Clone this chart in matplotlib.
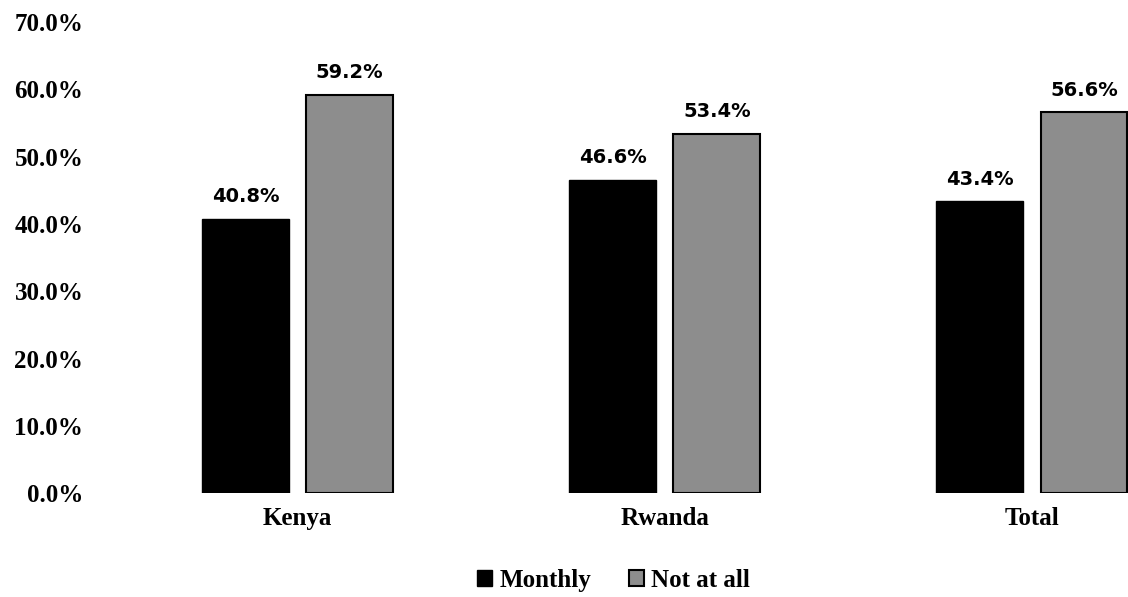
import numpy as np
import matplotlib.pyplot as plt
from matplotlib.patches import Patch

categories = ['Kenya', 'Rwanda', 'Total']
monthly = [40.8, 46.6, 43.4]
not_at_all = [59.2, 53.4, 56.6]
yticks = [0, 10, 20, 30, 40, 50, 60, 70]

serif = {'family': 'Liberation Serif', 'weight': 'bold', 'size': 18}

fig = plt.figure(figsize=(11.28, 5.97), dpi=100)
ax = fig.add_axes([100 / 1128, 0.174, 1 - 100 / 1128, 0.789])

x = np.arange(len(categories))
w = 0.236
off = 0.142
b1 = ax.bar(x - off, monthly, w, color='black', edgecolor='black', linewidth=1)
b2 = ax.bar(x + off, not_at_all, w, color='#8d8d8d', edgecolor='black', linewidth=1.5)

for bars, vals in [(b1, monthly), (b2, not_at_all)]:
    for r, v in zip(bars, vals):
        ax.annotate(f'{v:.1f}%', (r.get_x() + r.get_width() / 2, v),
                    xytext=(0, 9), textcoords='offset points',
                    ha='center', va='bottom', fontsize=14,
                    fontweight='bold', family='DejaVu Sans')

ax.set_xlim(-0.538, 2.262)
ax.set_ylim(0, 70)
ax.set_yticks(yticks)
ax.set_yticklabels([f'{t:.1f}%' for t in yticks], fontdict=serif)
ax.set_xticks(x)
ax.set_xticklabels(categories, fontdict=serif)
ax.tick_params(axis='both', length=0)
ax.tick_params(axis='x', pad=10)
ax.tick_params(axis='y', pad=12)
for s in ax.spines.values():
    s.set_visible(False)

handles = [Patch(facecolor='black', edgecolor='black'),
           Patch(facecolor='#8d8d8d', edgecolor='black', linewidth=1.5)]
fig.legend(handles, ['Monthly', 'Not at all'], loc='center', bbox_to_anchor=(0.544, 0.028),
           ncol=2, frameon=False, handlelength=0.6, handleheight=0.6, handletextpad=0.3,
           columnspacing=1.5, prop=serif)

fig.savefig('out.png', dpi=100)
